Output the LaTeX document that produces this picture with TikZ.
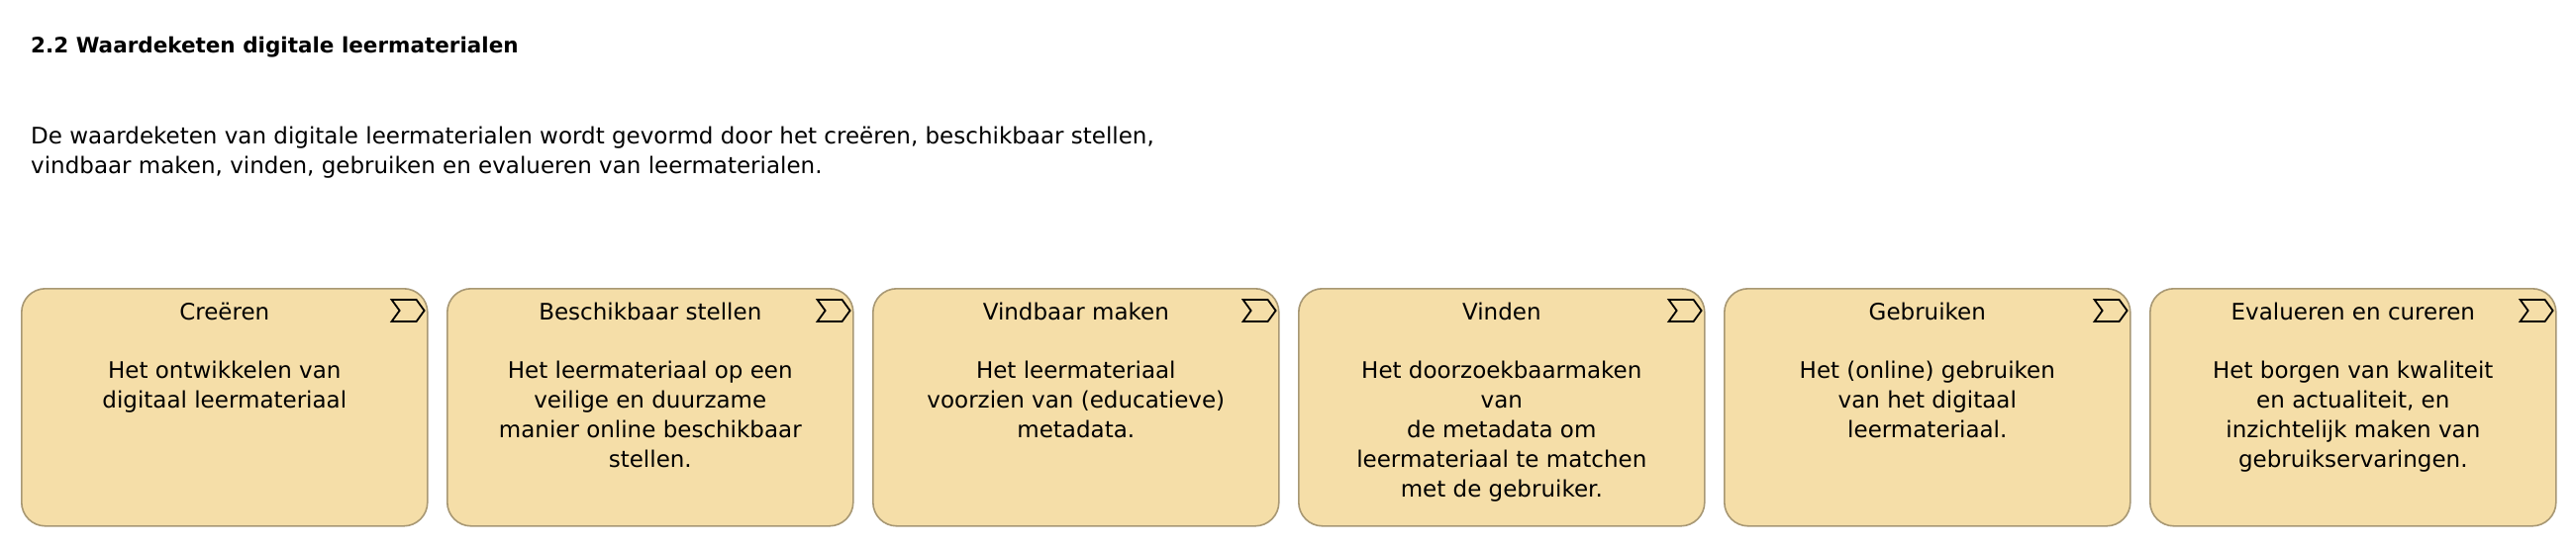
\documentclass[tikz,border=0pt]{standalone}
\usepackage{fontspec}
\setmainfont{DejaVu Sans}
\usetikzlibrary{calc}
\definecolor{vsfill}{RGB}{245,222,168}
\definecolor{vsborder}{RGB}{168,152,116}
\begin{document}
\begin{tikzpicture}[x=1pt,y=-1pt,
  vsbox/.style={draw=vsborder, fill=vsfill, rounded corners=24pt, line width=1.6pt,
    minimum width=410pt, minimum height=240pt, anchor=north west, inner sep=0pt},
  vstitle/.style={font=\fontsize{23}{30}\selectfont, inner sep=0pt, anchor=base},
  vsbody/.style={font=\fontsize{23}{30}\selectfont, align=center, inner sep=0pt, anchor=north},
  vsicon/.style={draw=black, line width=1.8pt, line join=miter},
  headtxt/.style={font=\fontsize{21.5}{30}\selectfont\bfseries, inner sep=0pt, anchor=base west},
  paratxt/.style={font=\fontsize{23}{30}\selectfont, inner sep=0pt, anchor=north west, align=left}]
\useasboundingbox (0,0) rectangle (2602,552);
\fill[white] (0,0) rectangle (2602,552);
\node[headtxt] (head) at (31,53) {2.2 Waardeketen digitale leermaterialen};
\node[paratxt] (para) at (31,128) {De waardeketen van digitale leermaterialen wordt gevormd door het creëren, beschikbaar stellen,\\vindbaar maken, vinden, gebruiken en evalueren van leermaterialen.};
\foreach \i/\t/\b in {
  1/{Creëren}/{Het ontwikkelen van\\digitaal leermateriaal},
  2/{Beschikbaar stellen}/{Het leermateriaal op een\\veilige en duurzame\\manier online beschikbaar\\stellen.},
  3/{Vindbaar maken}/{Het leermateriaal\\voorzien van (educatieve)\\metadata.},
  4/{Vinden}/{Het doorzoekbaarmaken\\van\\de metadata om\\leermateriaal te matchen\\met de gebruiker.},
  5/{Gebruiken}/{Het (online) gebruiken\\van het digitaal\\leermateriaal.},
  6/{Evalueren en cureren}/{Het borgen van kwaliteit\\en actualiteit, en\\inzichtelijk maken van\\gebruikservaringen.}}{
  \node[vsbox] (b\i) at ({21+430*(\i-1)},291) {};
  \node[vstitle] (t\i) at ($(b\i.north)+(0,32)$) {\t};
  \node[vsbody] (d\i) at ($(b\i.north)+(0,74)$) {\b};
  \draw[vsicon] ($(b\i.north east)+(-37,12)$) -- ($(b\i.north east)+(-12,12)$)
    -- ($(b\i.north east)+(-4,23)$) -- ($(b\i.north east)+(-12,34)$)
    -- ($(b\i.north east)+(-37,34)$) -- ($(b\i.north east)+(-29,23)$) -- cycle;
}
\end{tikzpicture}
\end{document}
